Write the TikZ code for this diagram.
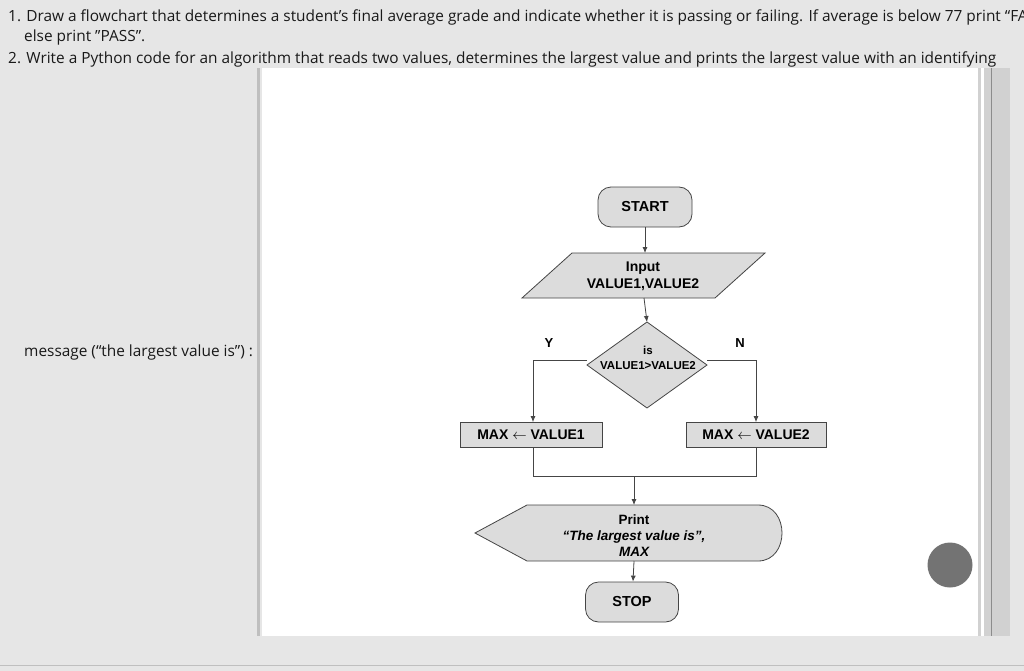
\documentclass[tikz,border=0pt]{standalone}
\usepackage{fontspec}
\setmainfont{Open Sans}
\newfontfamily\chartfont{Liberation Sans}
\usetikzlibrary{arrows.meta}
\definecolor{pagegray}{HTML}{E6E6E6}
\definecolor{boxgray}{HTML}{DCDCDC}
\definecolor{edgegray}{HTML}{454545}
\begin{document}
\begin{tikzpicture}[x=1pt, y=-1pt,
txt/.style = {anchor = west, inner sep = 0pt, font = \fontsize{15.4}{18}\selectfont, text = black!90},
term/.style = {rectangle, rounded corners = 13pt, draw = edgegray, thick, fill = boxgray,
  minimum width = 94pt, minimum height = 40pt, font = \chartfont\bfseries\fontsize{14.5}{16}\selectfont},
step1/.style = {rectangle, draw = edgegray, thick, fill = boxgray, minimum width = 142pt,
  minimum height = 25pt, font = \chartfont\bfseries\fontsize{14}{16}\selectfont},
flow/.style = {-{Latex[length=6pt, width=5pt]}, edgegray, thick}]

\useasboundingbox (0,0) rectangle (1024,671);
\fill[pagegray] (0,0) rectangle (1024,671);

% question text
\node[txt] (q1) at (8,17) {1. Draw a flowchart that determines a student’s final average grade and indicate whether it is passing or failing. If average is below 77 print “FA};
\node[txt] (q1b) at (24,38) {else print ”PASS”.};
\node[txt] (q2) at (8,59) {2. Write a Python code for an algorithm that reads two values, determines the largest value and prints the largest value with an identifying};
\node[txt] (q2b) at (24,352) {message (“the largest value is”) :};

% picture panel
\fill[white] (262,68) rectangle (978,636);
\fill[black!25] (257,68) rectangle (260,636);
\fill[black!18] (978,68) rectangle (1010,636);
\fill[white] (981,68) rectangle (984,636);
\draw[black!45, thick] (991,68) -- (991,636);
\draw[black!25] (0,665) -- (1024,665);
\node[circle, fill = black!55, minimum size = 45pt, inner sep = 0pt] (dot) at (950,565) {};

% flowchart nodes
\node[term] (start) at (645,207) {START};
\fill[boxgray, draw = edgegray, thick] (572,253) -- (765,253) -- (715,298) -- (522,298) -- cycle;
\node[minimum width = 150pt, minimum height = 45pt, align = center, inner sep = 0pt,
  font = \chartfont\bfseries\fontsize{14}{17}\selectfont] (in) at (643,276) {Input\\VALUE1,VALUE2};
\fill[boxgray, draw = edgegray, thick] (647,322) -- (707,365) -- (647,408) -- (587,365) -- cycle;
\node[minimum width = 120pt, minimum height = 86pt, inner sep = 0pt, align = center,
  font = \chartfont\bfseries\fontsize{11.5}{15}\selectfont] (dec) at (648,358) {is\\VALUE1>VALUE2};
\node[font = \chartfont\bfseries\fontsize{13}{15}\selectfont] (yes) at (549,343) {Y};
\node[font = \chartfont\bfseries\fontsize{13}{15}\selectfont] (no) at (740,343) {N};
\node[step1] (m1) at (531,435) {MAX $\leftarrow$ VALUE1};
\node[step1, minimum width = 140pt] (m2) at (756,435) {MAX $\leftarrow$ VALUE2};
\coordinate (j-1) at (533,476);
\coordinate (j-2) at (756,476);
\coordinate (j) at (634,476);
\fill[boxgray, draw = edgegray, thick] (475,533) -- (527,505) -- (758,505)
  .. controls (790,505) and (790,561) .. (758,561) -- (527,561) -- cycle;
\node[minimum width = 200pt, minimum height = 56pt, align = center, inner sep = 0pt,
  font = \chartfont\bfseries\fontsize{13.5}{16}\selectfont] (pr) at (634,536)
  {Print\\\itshape “The largest value is”,\\\itshape MAX};
\node[term, minimum width = 93pt] (stop) at (632,602) {STOP};

% connect nodes
\draw[flow] (start) -- (645,253);
\draw[flow] (644,298) -- (647,322);
\draw[flow] (587,360) -| (m1.north -| j-1);
\draw[flow] (707,360) -| (m2.north);
\draw[edgegray, thick] (m1.south -| j-1) -- (j-1) -- (j-2) -- (m2.south);
\draw[flow] (j) -- (634,505);
\draw[flow] (634,561) -- (stop);

\end{tikzpicture}
\end{document}
